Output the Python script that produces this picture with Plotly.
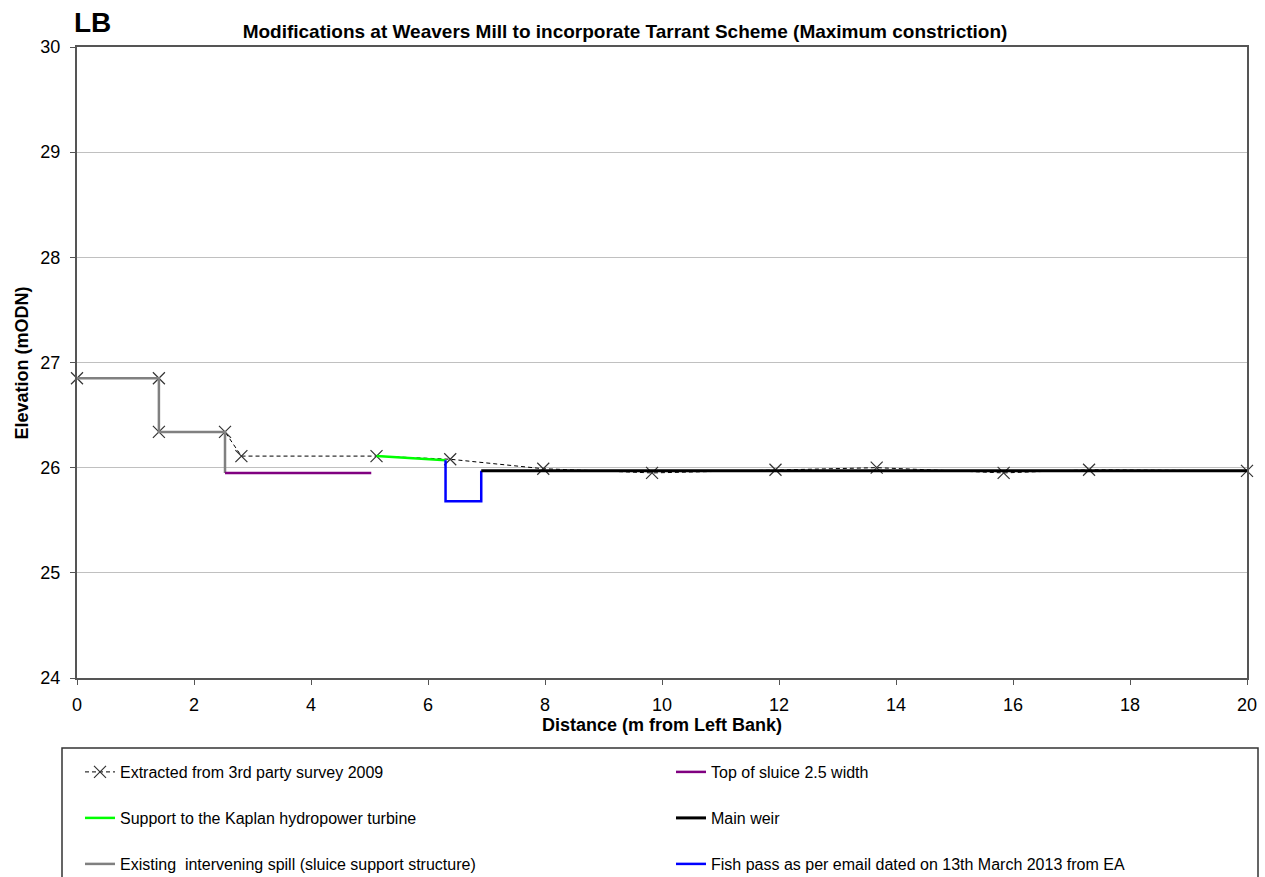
import plotly.graph_objects as go

# ---------------- data ----------------
survey_x = [0.0, 1.40, 1.40, 2.53, 2.81, 5.12, 6.38, 7.97, 9.83, 11.94, 13.67, 15.84, 17.30, 20.0]
survey_y = [26.85, 26.85, 26.34, 26.34, 26.11, 26.11, 26.08, 25.99, 25.95, 25.98, 26.00, 25.95, 25.98, 25.97]

spill_x = [0.0, 1.40, 1.40, 2.53, 2.53]
spill_y = [26.85, 26.85, 26.34, 26.34, 25.95]

sluice_x = [2.53, 5.03]
sluice_y = [25.95, 25.95]

kaplan_x = [5.12, 6.30]
kaplan_y = [26.11, 26.07]

fish_x = [6.30, 6.30, 6.91, 6.91]
fish_y = [26.07, 25.68, 25.68, 25.97]

weir_x = [6.91, 20.0]
weir_y = [25.97, 25.97]

names = [
    "Extracted from 3rd party survey 2009",
    "Top of sluice 2.5 width",
    "Support to the Kaplan hydropower turbine",
    "Main weir",
    "Existing  intervening spill (sluice support structure)",
    "Fish pass as per email dated on 13th March 2013 from EA",
]

title_text = "Modifications at Weavers Mill to incorporate Tarrant Scheme (Maximum constriction)"
x_title = "Distance (m from Left Bank)"
y_title = "Elevation (mODN)"

FONT = "Liberation Sans, Arial, sans-serif"

# ---------------- geometry (pixels) ----------------
W, H = 1265, 877
L, R, T, B = 77, 1247, 47, 678
PW, PH = R - L, B - T


def px_x(p):
    return (p - L) / PW


def px_y(p):
    return (B - p) / PH


fig = go.Figure()

# survey drawn first so the other structures sit on top of it
fig.add_trace(go.Scatter(x=survey_x, y=survey_y, mode="lines+markers", name=names[0],
                         line=dict(color="#000000", width=1, dash="4px,3px"),
                         marker=dict(symbol="x-thin", size=12, color="#333333",
                                     line=dict(color="#333333", width=1.2)),
                         cliponaxis=False, legend="legend"))
fig.add_trace(go.Scatter(x=spill_x, y=spill_y, mode="lines", name=names[4],
                         line=dict(color="#808080", width=2.5), legend="legend5"))
fig.add_trace(go.Scatter(x=sluice_x, y=sluice_y, mode="lines", name=names[1],
                         line=dict(color="#800080", width=2.5), legend="legend2"))
fig.add_trace(go.Scatter(x=kaplan_x, y=kaplan_y, mode="lines", name=names[2],
                         line=dict(color="#00ff00", width=2.5), legend="legend3"))
fig.add_trace(go.Scatter(x=fish_x, y=fish_y, mode="lines", name=names[5],
                         line=dict(color="#0000ff", width=2.5), legend="legend6"))
fig.add_trace(go.Scatter(x=weir_x, y=weir_y, mode="lines", name=names[3],
                         line=dict(color="#000000", width=3), legend="legend4"))

rows = [772, 818, 864]
cols = [80, 671]
legend_keys = ["legend", "legend2", "legend3", "legend4", "legend5", "legend6"]
legend_layout = {}
for i, key in enumerate(legend_keys):
    r, c = divmod(i, 2)
    legend_layout[key] = dict(
        x=px_x(cols[c]), xanchor="left",
        y=px_y(rows[r]), yanchor="middle",
        bgcolor="rgba(0,0,0,0)", borderwidth=0,
        font=dict(family=FONT, size=16, color="#000000"),
    )

fig.update_layout(
    width=W, height=H,
    margin=dict(l=L, r=W - R, t=T, b=H - B, autoexpand=False),
    paper_bgcolor="white", plot_bgcolor="white",
    font=dict(family=FONT, color="#000000"),
    title=dict(text="<b>" + title_text + "</b>", x=px_x(625), xref="paper", xanchor="center",
               y=1 - 31 / H, yref="container", yanchor="middle",
               font=dict(family=FONT, size=19, color="#000000")),
    showlegend=True,
    **legend_layout,
)

fig.update_xaxes(range=[0, 20], dtick=2, tick0=0, showgrid=False, zeroline=False,
                 showline=True, linecolor="#555555", linewidth=2, mirror=True,
                 ticks="outside", ticklen=5, tickcolor="#555555", tickwidth=1,
                 ticklabelstandoff=4,
                 tickfont=dict(family=FONT, size=18, color="#000000"))
fig.update_yaxes(range=[24, 30], dtick=1, tick0=24, showgrid=True, gridcolor="#c0c0c0",
                 gridwidth=1, zeroline=False,
                 showline=True, linecolor="#555555", linewidth=2, mirror=True,
                 ticks="outside", ticklen=5, tickcolor="#555555", tickwidth=1,
                 ticklabelstandoff=6,
                 tickfont=dict(family=FONT, size=18, color="#000000"))

# legend frame (its bottom edge falls outside the picture, as in the reference)
fig.add_shape(type="rect", xref="paper", yref="paper",
              x0=px_x(62), x1=px_x(1258), y0=px_y(748), y1=px_y(900),
              line=dict(color="#333333", width=1.5), fillcolor="rgba(0,0,0,0)")

fig.add_annotation(text="<b>LB</b>", xref="paper", yref="paper",
                   x=px_x(72), xanchor="left", y=px_y(23), yanchor="middle",
                   showarrow=False, font=dict(family=FONT, size=28, color="#000000"))
fig.add_annotation(text="<b>" + y_title + "</b>", xref="paper", yref="paper",
                   x=px_x(21), xanchor="center", y=0.5, yanchor="middle", textangle=-90,
                   showarrow=False, font=dict(family=FONT, size=18, color="#000000"))
fig.add_annotation(text="<b>" + x_title + "</b>", xref="paper", yref="paper",
                   x=px_x(662), xanchor="center", y=px_y(725), yanchor="middle",
                   showarrow=False, font=dict(family=FONT, size=18, color="#000000"))

fig.write_html("out.html", config={"displayModeBar": False},
               post_script="document.body.style.margin='0';")
